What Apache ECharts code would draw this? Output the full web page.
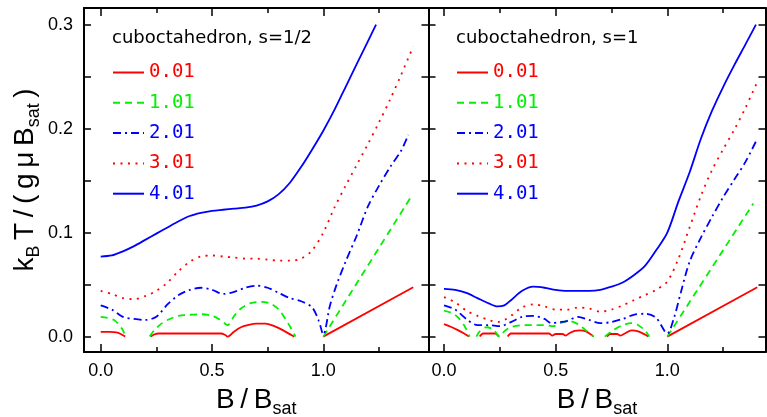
<!DOCTYPE html>
<html>
<head>
<meta charset="utf-8">
<script src="https://cdn.jsdelivr.net/npm/echarts@6/dist/echarts.min.js"></script>
<style>
html,body{margin:0;padding:0;background:#fff;}
#chart{width:767px;height:417px;}
</style>
</head>
<body>
<div id="chart"></div>
<script>
// ---------- data ----------
const seriesNames = ['0.01', '1.01', '2.01', '3.01', '4.01'];
const panelTitles = ['cuboctahedron, s=1/2', 'cuboctahedron, s=1'];

const xLabelValues = [0, 0.5, 1.0];
const xMinorTickValues = [0.25, 0.75, 1.25];
const yLabelValues = [0, 0.1, 0.2, 0.3];
const yTickValues = [0, 0.05, 0.1, 0.15, 0.2, 0.25, 0.3];

// left panel, s=1/2   (null = curve not drawn)
const leftS0X = [0, 0.04, 0.07, 0.09, 0.11, 0.17, 0.225, 0.24, 0.26, 0.3, 0.4, 0.5, 0.54, 0.56, 0.57, 0.6, 0.63, 0.66, 0.7, 0.74, 0.78, 0.82, 0.86, 0.87, 0.93, 1.0, 1.404];
const leftS0Y = [0.0045, 0.0045, 0.004, 0.0025, 0, null, 0, 0.002, 0.003, 0.003, 0.003, 0.003, 0.003, 0.0015, 0, 0.005, 0.009, 0.011, 0.0125, 0.0125, 0.010, 0.006, 0.001, 0, null, 0, 0.0474];

const leftS1X = [0, 0.03, 0.06, 0.08, 0.1, 0.11, 0.16, 0.22, 0.24, 0.27, 0.3, 0.35, 0.4, 0.45, 0.5, 0.53, 0.555, 0.57, 0.6, 0.63, 0.67, 0.72, 0.76, 0.8, 0.83, 0.855, 0.875, 0.94, 1.0, 1.39];
const leftS1Y = [0.019, 0.018, 0.016, 0.012, 0.006, 0, null, 0, 0.006, 0.012, 0.016, 0.020, 0.021, 0.0215, 0.020, 0.017, 0.013, 0.011, 0.020, 0.027, 0.032, 0.0335, 0.032, 0.026, 0.017, 0.008, 0, null, 0, 0.133];

const leftS2X = [0, 0.05, 0.1, 0.15, 0.2, 0.25, 0.3, 0.35, 0.4, 0.45, 0.5, 0.55, 0.6, 0.65, 0.7, 0.75, 0.8, 0.85, 0.9, 0.95, 0.98, 1.0, 1.03, 1.06, 1.1, 1.15, 1.2, 1.25, 1.3, 1.35, 1.382];
const leftS2Y = [0.030, 0.026, 0.019, 0.017, 0.016, 0.019, 0.031, 0.040, 0.045, 0.047, 0.045, 0.041, 0.043, 0.047, 0.049, 0.047, 0.042, 0.037, 0.034, 0.028, 0.015, 0.002, 0.030, 0.050, 0.072, 0.097, 0.125, 0.145, 0.163, 0.179, 0.194];

const leftS3X = [0, 0.05, 0.1, 0.15, 0.2, 0.25, 0.3, 0.35, 0.4, 0.45, 0.5, 0.55, 0.6, 0.65, 0.7, 0.75, 0.8, 0.85, 0.9, 0.95, 1.0, 1.05, 1.1, 1.15, 1.2, 1.25, 1.3, 1.35, 1.404];
const leftS3Y = [0.044, 0.041, 0.037, 0.036, 0.039, 0.044, 0.052, 0.063, 0.072, 0.077, 0.078, 0.077, 0.076, 0.075, 0.075, 0.074, 0.073, 0.073, 0.075, 0.083, 0.100, 0.124, 0.145, 0.165, 0.185, 0.206, 0.228, 0.252, 0.279];

const leftS4X = [0, 0.05, 0.1, 0.15, 0.2, 0.25, 0.3, 0.35, 0.4, 0.45, 0.5, 0.55, 0.6, 0.65, 0.7, 0.75, 0.8, 0.85, 0.9, 0.95, 1.0, 1.05, 1.1, 1.15, 1.237];
const leftS4Y = [0.077, 0.078, 0.082, 0.087, 0.093, 0.099, 0.105, 0.111, 0.116, 0.119, 0.121, 0.122, 0.123, 0.124, 0.126, 0.130, 0.137, 0.148, 0.163, 0.180, 0.198, 0.218, 0.240, 0.262, 0.300];

// right panel, s=1
const rightS0X = [0, 0.03, 0.06, 0.09, 0.112, 0.135, 0.16, 0.175, 0.2, 0.23, 0.245, 0.265, 0.285, 0.3, 0.35, 0.4, 0.47, 0.485, 0.5, 0.53, 0.545, 0.56, 0.585, 0.61, 0.635, 0.655, 0.67, 0.7, 0.73, 0.745, 0.775, 0.79, 0.81, 0.84, 0.87, 0.9, 0.915, 0.96, 1.0, 1.403];
const rightS0Y = [0.012, 0.0095, 0.0065, 0.003, 0, null, 0, 0.003, 0.003, 0.003, 0, null, 0, 0.003, 0.003, 0.003, 0.003, 0.001, 0.0025, 0.0025, 0.001, 0.003, 0.0055, 0.006, 0.005, 0.0025, 0, null, 0, 0.0025, 0.0025, 0.001, 0.003, 0.006, 0.005, 0.002, 0, null, 0, 0.0474];

const rightS1X = [0, 0.03, 0.06, 0.09, 0.115, 0.13, 0.145, 0.16, 0.19, 0.22, 0.25, 0.27, 0.3, 0.35, 0.4, 0.45, 0.49, 0.52, 0.56, 0.6, 0.63, 0.67, 0.695, 0.72, 0.75, 0.8, 0.84, 0.87, 0.9, 0.92, 0.96, 1.0, 1.385];
const rightS1Y = [0.025, 0.023, 0.019, 0.011, 0, null, 0, 0.005, 0.009, 0.007, 0, 0.005, 0.009, 0.011, 0.011, 0.011, 0.010, 0.013, 0.015, 0.012, 0.007, 0, null, 0, 0.005, 0.011, 0.013, 0.011, 0.006, 0, null, 0, 0.128];

const rightS2X = [0, 0.05, 0.1, 0.15, 0.2, 0.25, 0.3, 0.35, 0.4, 0.45, 0.48, 0.52, 0.55, 0.6, 0.65, 0.7, 0.75, 0.8, 0.85, 0.9, 0.95, 1.0, 1.03, 1.06, 1.1, 1.15, 1.2, 1.25, 1.3, 1.35, 1.40];
const rightS2Y = [0.030, 0.026, 0.017, 0.011, 0.011, 0.010, 0.014, 0.019, 0.020, 0.017, 0.013, 0.014, 0.015, 0.019, 0.016, 0.013, 0.014, 0.017, 0.021, 0.022, 0.018, 0.003, 0.018, 0.042, 0.072, 0.095, 0.115, 0.134, 0.151, 0.168, 0.189];

const rightS3X = [0, 0.05, 0.1, 0.15, 0.2, 0.24, 0.27, 0.3, 0.35, 0.4, 0.45, 0.5, 0.55, 0.6, 0.65, 0.7, 0.75, 0.8, 0.85, 0.9, 0.95, 1.0, 1.05, 1.1, 1.15, 1.2, 1.25, 1.3, 1.35, 1.40];
const rightS3Y = [0.038, 0.033, 0.025, 0.020, 0.016, 0.014, 0.016, 0.020, 0.028, 0.031, 0.029, 0.026, 0.026, 0.028, 0.027, 0.024, 0.026, 0.030, 0.035, 0.040, 0.045, 0.053, 0.075, 0.105, 0.135, 0.160, 0.180, 0.199, 0.220, 0.2435];

const rightS4X = [0, 0.05, 0.1, 0.15, 0.2, 0.24, 0.27, 0.3, 0.35, 0.4, 0.45, 0.5, 0.55, 0.6, 0.65, 0.7, 0.75, 0.8, 0.85, 0.9, 0.95, 1.0, 1.05, 1.1, 1.15, 1.2, 1.25, 1.3, 1.35, 1.397];
const rightS4Y = [0.046, 0.045, 0.042, 0.037, 0.032, 0.029, 0.030, 0.035, 0.044, 0.048, 0.047, 0.045, 0.044, 0.044, 0.044, 0.045, 0.048, 0.052, 0.059, 0.068, 0.083, 0.100, 0.130, 0.158, 0.190, 0.217, 0.240, 0.261, 0.281, 0.300];

// ---------- styling ----------
const RED = '#ff0000', GREEN = '#00f000', BLUE = '#0000ff';
const lineStyles = [
  {color: RED, width: 1.8, type: 'solid'},
  {color: GREEN, width: 1.8, type: [7, 5]},
  {color: BLUE, width: 1.8, type: [8, 4, 2, 4]},
  {color: RED, width: 1.8, type: [2, 5.5]},
  {color: BLUE, width: 1.8, type: 'solid'}
];

const leftData = [[leftS0X, leftS0Y], [leftS1X, leftS1Y], [leftS2X, leftS2Y], [leftS3X, leftS3Y], [leftS4X, leftS4Y]];
const rightData = [[rightS0X, rightS0Y], [rightS1X, rightS1Y], [rightS2X, rightS2Y], [rightS3X, rightS3Y], [rightS4X, rightS4Y]];

function pairs(xs, ys) {
  return xs.map((x, i) => [x, ys[i] === null ? '-' : ys[i]]);
}

const Y_MIN = -0.0148, Y_MAX = 0.316;
const LEFT_X = [-0.075, 1.4726];
const RIGHT_X = [-0.0694, 1.4398];

const black = '#000';
const labelFont = 'Liberation Sans';
const TS = '\u2009'; // thin space used to widen letter spacing of the axis titles

function xAxis(grid, range, pos, major, withLabels, withLine) {
  return {
    type: 'value', gridIndex: grid, position: pos, min: range[0], max: range[1],
    axisLine: {show: withLine, onZero: false, lineStyle: {color: black, width: 2}},
    axisTick: {show: true, inside: true, length: major ? 8 : 5, customValues: major ? xLabelValues : xMinorTickValues,
               lineStyle: {color: black, width: 1.5}},
    axisLabel: withLabels ? {show: true, customValues: xLabelValues, formatter: v => v.toFixed(1),
               color: black, fontSize: 18, fontFamily: labelFont, margin: 10} : {show: false},
    splitLine: {show: false}
  };
}
function yAxis(grid, pos, withLabels, show) {
  return {
    type: 'value', gridIndex: grid, position: pos, min: Y_MIN, max: Y_MAX, show: show,
    axisLine: {show: true, onZero: false, lineStyle: {color: black, width: 2}},
    axisTick: {show: true, inside: true, length: 7, customValues: yTickValues, lineStyle: {color: black, width: 1.5}},
    axisLabel: withLabels ? {show: true, customValues: yLabelValues, formatter: v => v.toFixed(1),
               color: black, fontSize: 18, fontFamily: labelFont, margin: 11} : {show: false},
    splitLine: {show: false}
  };
}

const nameRich = {
  a: {fontSize: 28, fontFamily: labelFont, color: black, lineHeight: 36, verticalAlign: 'middle'},
  s: {fontSize: 18, fontFamily: labelFont, color: black, lineHeight: 18, verticalAlign: 'bottom'}
};
const spaced = s => s.split('').join(TS);
const xName = '{a|' + spaced('B/B') + '}{s|sat}';
const yName = '{a|k}{s|B}{a|' + TS + spaced('T/(gμB') + '}{s|sat}{a|' + TS + ')}';

const xAxes = [
  Object.assign(xAxis(0, LEFT_X, 'bottom', true, true, true), {
    name: xName, nameLocation: 'middle', nameGap: 30, nameTextStyle: {rich: nameRich}
  }),
  xAxis(0, LEFT_X, 'top', true, false, true),
  Object.assign(xAxis(1, RIGHT_X, 'bottom', true, true, true), {
    name: xName, nameLocation: 'middle', nameGap: 30, nameTextStyle: {rich: nameRich}
  }),
  xAxis(1, RIGHT_X, 'top', true, false, true),
  xAxis(2, LEFT_X, 'bottom', false, false, false),
  xAxis(2, LEFT_X, 'top', false, false, false),
  xAxis(3, RIGHT_X, 'bottom', false, false, false),
  xAxis(3, RIGHT_X, 'top', false, false, false)
];

const yAxes = [
  Object.assign(yAxis(0, 'left', true, true), {
    name: yName, nameLocation: 'middle', nameGap: 41, nameRotate: 90, nameTextStyle: {rich: nameRich}
  }),
  yAxis(0, 'right', false, true),
  yAxis(1, 'left', false, true),
  yAxis(1, 'right', false, true),
  yAxis(2, 'left', false, false),
  yAxis(3, 'left', false, false)
];

const series = [];
[leftData, rightData].forEach((panel, p) => {
  panel.forEach((d, i) => {
    series.push({
      name: seriesNames[i], type: 'line', xAxisIndex: p * 2, yAxisIndex: p * 2,
      data: pairs(d[0], d[1]), symbol: 'none', smooth: 0.3, connectNulls: false,
      lineStyle: lineStyles[i], itemStyle: {color: lineStyles[i].color},
      emphasis: {disabled: true}, animation: false, clip: true
    });
  });
});

const legendData = seriesNames.map((n, i) => ({name: n, textStyle: {color: lineStyles[i].color}}));
function legend(left) {
  return {
    left: left, top: 63, orient: 'vertical', itemWidth: 31, itemHeight: 16, itemGap: 11.3,
    padding: 0, data: legendData, selectedMode: false,
    itemStyle: {opacity: 0},
    textStyle: {fontFamily: 'DejaVu Sans Mono', fontSize: 19, lineHeight: 16, padding: [0, 0, 0, 0]}
  };
}

const gridBase = {outerBoundsMode: 'none', containLabel: false};
const option = {
  animation: false,
  backgroundColor: '#fff',
  title: [
    {text: panelTitles[0], left: 112, top: 29, padding: 0,
     textStyle: {fontFamily: 'DejaVu Sans', fontSize: 18, fontWeight: 'normal', color: black}},
    {text: panelTitles[1], left: 456, top: 29, padding: 0,
     textStyle: {fontFamily: 'DejaVu Sans', fontSize: 18, fontWeight: 'normal', color: black}}
  ],
  legend: [legend(112), legend(456)],
  grid: [
    Object.assign({left: 84, top: 8, width: 344.5, height: 344}, gridBase),
    Object.assign({left: 428.5, top: 8, width: 337, height: 344}, gridBase),
    Object.assign({left: 84, top: 8, width: 344.5, height: 344}, gridBase),
    Object.assign({left: 428.5, top: 8, width: 337, height: 344}, gridBase)
  ],
  xAxis: xAxes,
  yAxis: yAxes,
  series: series
};

const chart = echarts.init(document.getElementById('chart'), null, {renderer: 'canvas'});
chart.setOption(option);
</script>
</body>
</html>
